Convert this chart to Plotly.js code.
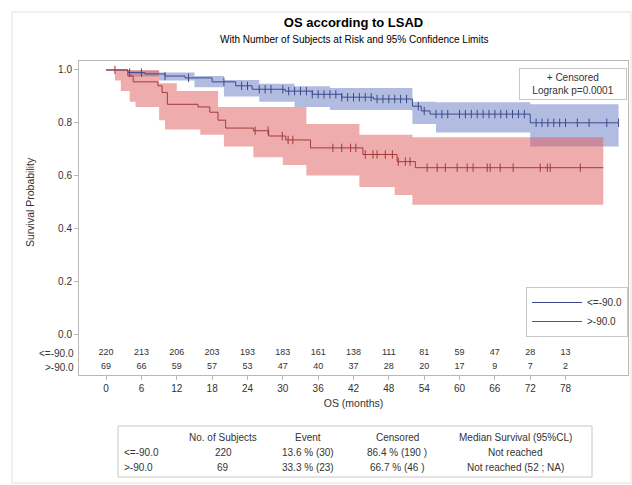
<!DOCTYPE html>
<html>
<head>
<meta charset="utf-8">
<script src="https://cdn.plot.ly/plotly-3.0.1.min.js"></script>
<style>html,body{margin:0;padding:0;background:#fff}#chart{width:632px;height:485px}</style>
</head>
<body>
<div id="chart"></div>
<script>
// ---------- data ----------
const groupNames = ['&lt;=-90.0', '&gt;-90.0'];

// Kaplan-Meier step curves (time in months, survival probability)
const blueT = [0, 3.7, 6.6, 10, 13.4, 18, 22, 24.8, 30.4, 35, 40, 45.4, 52, 53.5, 55, 72, 87];
const blueS = [1.0, 0.99, 0.985, 0.977, 0.97, 0.955, 0.94, 0.927, 0.92, 0.908, 0.897, 0.89, 0.863, 0.845, 0.833, 0.80, 0.80];

const redT = [0, 3.7, 4.6, 8.8, 9.5, 10.4, 15.6, 17.6, 19, 20.3, 25, 27.6, 30.5, 34.7, 43.6, 49.4, 52.5, 84.4];
const redS = [1.0, 0.977, 0.955, 0.94, 0.915, 0.87, 0.86, 0.84, 0.81, 0.78, 0.77, 0.75, 0.735, 0.705, 0.68, 0.653, 0.63, 0.63];

// 95% confidence bands
const blueBandT  = [0, 4, 9, 15, 20, 26, 32, 38, 52, 56, 72, 87];
const blueUpper  = [1.0, 0.997, 0.99, 0.977, 0.962, 0.948, 0.938, 0.932, 0.88, 0.878, 0.87, 0.87];
const blueLower  = [1.0, 0.975, 0.96, 0.935, 0.90, 0.88, 0.86, 0.848, 0.795, 0.763, 0.71, 0.71];

const redBandT   = [0, 1.5, 2.5, 4, 5, 9, 10, 12, 16, 19, 20, 25, 30, 34, 43, 49, 52, 84.4];
const redUpper   = [1.0, 1.0, 1.0, 1.0, 1.0, 0.95, 0.95, 0.92, 0.92, 0.86, 0.86, 0.86, 0.86, 0.795, 0.755, 0.755, 0.745, 0.745];
const redLower   = [1.0, 0.96, 0.92, 0.88, 0.86, 0.81, 0.775, 0.775, 0.755, 0.755, 0.71, 0.67, 0.64, 0.60, 0.557, 0.527, 0.49, 0.49];

// censoring times
const blueCensT = [4, 6, 10, 14, 20, 23, 24, 26, 27, 28, 30, 31, 32, 33, 34, 35, 36, 37, 38, 39, 40, 41, 42, 43, 44, 45, 46, 47, 48, 49, 50, 51, 53, 54, 56, 57, 58, 60, 61, 62, 63, 64, 65, 66, 67, 68, 69, 70, 71, 73, 74, 75, 76, 77, 78, 80, 82, 85, 87];
const redCensT  = [1.5, 25.3, 27.5, 29.9, 30.9, 31.7, 38.5, 40, 41.5, 42.4, 44, 45.3, 46, 47.4, 48.6, 49.6, 50.8, 51.6, 54.5, 56.2, 57.6, 59.6, 61.3, 62.3, 64.7, 65.2, 66.9, 69.1, 73.7, 74.9, 75.4, 80.5];

// number at risk
const riskTimes = [0, 6, 12, 18, 24, 30, 36, 42, 48, 54, 60, 66, 72, 78];
const riskBlue  = [220, 213, 206, 203, 193, 183, 161, 138, 111, 81, 59, 47, 28, 13];
const riskRed   = [69, 66, 59, 57, 53, 47, 40, 37, 28, 20, 17, 9, 7, 2];

// axis ticks
const xTicks = [0, 6, 12, 18, 24, 30, 36, 42, 48, 54, 60, 66, 72, 78];
const yTicks = [0, 0.2, 0.4, 0.6, 0.8, 1.0];
const yTickText = ['0.0', '0.2', '0.4', '0.6', '0.8', '1.0'];

// summary table
const tableHeader = ['', 'No. of Subjects', 'Event', 'Censored', 'Median Survival (95%CL)'];
const tableLabels = ['&lt;=-90.0', '&gt;-90.0'];
const tableSubjects = ['220', '69'];
const tableEvent = ['13.6 % (30)', '33.3 % (23)'];
const tableCensored = ['86.4 % (190 )', '66.7 % (46 )'];
const tableMedian = ['Not reached', 'Not reached (52 ; NA)'];

// ---------- styling ----------
const FONT = 'Liberation Sans, Arial, sans-serif';
const TXT = '#333333';
const blueLine = '#3b4a8c';
const redLine = '#a33a3a';
const blueFill = 'rgba(102,122,196,0.5)';
const redFill = 'rgba(222,90,90,0.5)';
const frame = '#b8b8b8';

// plot-area geometry helpers (pixels -> paper)
const ML = 79, MR = 4, MT = 61, MB = 4, W = 632, H = 485;
const PW = W - ML - MR, PH = H - MT - MB;
const px2x = p => (p - ML) / PW;
const py2y = p => (H - MB - p) / PH;

function stepAt(ts, vs, t) {
  let v = vs[0];
  for (let i = 0; i < ts.length; i++) { if (ts[i] <= t) v = vs[i]; }
  return v;
}

const rowY1 = -0.072, rowY2 = -0.125;

const traces = [
  {x: blueBandT, y: blueLower, mode: 'lines', line: {width: 0, shape: 'hv'}, showlegend: false, hoverinfo: 'skip'},
  {x: blueBandT, y: blueUpper, mode: 'lines', line: {width: 0, shape: 'hv'}, fill: 'tonexty', fillcolor: blueFill, showlegend: false, hoverinfo: 'skip'},
  {x: redBandT, y: redLower, mode: 'lines', line: {width: 0, shape: 'hv'}, showlegend: false, hoverinfo: 'skip'},
  {x: redBandT, y: redUpper, mode: 'lines', line: {width: 0, shape: 'hv'}, fill: 'tonexty', fillcolor: redFill, showlegend: false, hoverinfo: 'skip'},
  {x: blueT, y: blueS, mode: 'lines', name: groupNames[0], line: {color: blueLine, width: 1, shape: 'hv'}},
  {x: redT, y: redS, mode: 'lines', name: groupNames[1], line: {color: redLine, width: 1, shape: 'hv'}},
  {x: blueCensT, y: blueCensT.map(t => stepAt(blueT, blueS, t)), mode: 'markers', showlegend: false,
   marker: {symbol: 'line-ns-open', size: 6, color: blueLine, line: {width: 1, color: blueLine}}},
  {x: redCensT, y: redCensT.map(t => stepAt(redT, redS, t)), mode: 'markers', showlegend: false,
   marker: {symbol: 'line-ns-open', size: 6, color: redLine, line: {width: 1, color: redLine}}},
  {x: riskTimes, y: riskTimes.map(() => rowY1), text: riskBlue.map(String), mode: 'text', showlegend: false,
   textfont: {family: FONT, size: 9, color: TXT}, cliponaxis: false, hoverinfo: 'skip'},
  {x: riskTimes, y: riskTimes.map(() => rowY2), text: riskRed.map(String), mode: 'text', showlegend: false,
   textfont: {family: FONT, size: 9, color: TXT}, cliponaxis: false, hoverinfo: 'skip'}
];

const annotations = [
  {text: 'With Number of Subjects at Risk and 95% Confidence Limits', xref: 'paper', yref: 'paper',
   x: 0.5, y: py2y(40), xanchor: 'center', yanchor: 'middle', showarrow: false,
   font: {family: FONT, size: 10, color: '#000'}},
  {text: 'Survival Probability', xref: 'paper', yref: 'y', x: px2x(30), y: 0.5, textangle: -90,
   xanchor: 'center', yanchor: 'middle', showarrow: false, font: {family: FONT, size: 10.5, color: TXT}},
  {text: '+ Censored<br>Logrank p=0.0001', xref: 'paper', yref: 'paper', x: px2x(627), y: py2y(68),
   xanchor: 'right', yanchor: 'top', showarrow: false, align: 'center', width: 100, bordercolor: '#c8c8c8',
   borderwidth: 1, borderpad: 3, bgcolor: '#ffffff', font: {family: FONT, size: 10, color: TXT}},
  {text: groupNames[0], xref: 'paper', yref: 'y', x: 0, y: rowY1, xanchor: 'right', yanchor: 'middle',
   xshift: -3, showarrow: false, font: {family: FONT, size: 10, color: TXT}},
  {text: groupNames[1], xref: 'paper', yref: 'y', x: 0, y: rowY2, xanchor: 'right', yanchor: 'middle',
   xshift: -3, showarrow: false, font: {family: FONT, size: 10, color: TXT}}
];

// summary table as text annotations
const tableColX = [122, 223, 308, 397, 515];          // pixel positions (left for first col, centers for others)
const tableRowY = [437, 452, 467];                     // header, row1, row2
const tableCols = [tableLabels, tableSubjects, tableEvent, tableCensored, tableMedian];
tableHeader.forEach((h, c) => {
  if (!h) return;
  annotations.push({text: h, xref: 'paper', yref: 'paper', x: px2x(tableColX[c]), y: py2y(tableRowY[0]),
    xanchor: 'center', yanchor: 'middle', showarrow: false, font: {family: FONT, size: 10, color: TXT}});
});
tableCols.forEach((col, c) => {
  col.forEach((v, r) => {
    annotations.push({text: v, xref: 'paper', yref: 'paper', x: px2x(tableColX[c]), y: py2y(tableRowY[r + 1]),
      xanchor: c === 0 ? 'left' : 'center', yanchor: 'middle', showarrow: false,
      font: {family: FONT, size: 10, color: TXT}});
  });
});

const layout = {
  width: W, height: H,
  margin: {l: ML, r: MR, t: MT, b: MB},
  paper_bgcolor: '#ffffff', plot_bgcolor: '#ffffff',
  font: {family: FONT, size: 10, color: TXT},
  title: {text: '<b>OS according to LSAD</b>', font: {family: FONT, size: 13, color: '#000'},
          x: 0.5, xref: 'paper', xanchor: 'center', y: 1 - 22 / H, yref: 'container', yanchor: 'middle'},
  showlegend: true,
  legend: {x: 1, xanchor: 'right', y: py2y(337), yanchor: 'bottom', bordercolor: '#c8c8c8', borderwidth: 1,
           bgcolor: '#ffffff', font: {family: FONT, size: 10, color: TXT}, traceorder: 'normal', itemwidth: 50},
  xaxis: {range: [-4.6, 88.6], tickvals: xTicks, ticks: 'outside', ticklen: 4, tickcolor: frame,
          showline: true, linecolor: frame, linewidth: 1, mirror: true, showgrid: false, zeroline: false,
          tickfont: {family: FONT, size: 10, color: TXT},
          title: {text: 'OS (months)', font: {family: FONT, size: 10.5, color: TXT}, standoff: 6}},
  yaxis: {domain: [py2y(375), 1], range: [-0.155, 1.034], tickvals: yTicks, ticktext: yTickText,
          ticks: 'outside', ticklen: 4, tickcolor: frame, showline: true, linecolor: frame, linewidth: 1,
          mirror: true, showgrid: false, zeroline: false, tickfont: {family: FONT, size: 10, color: TXT}},
  annotations: annotations,
  shapes: [
    {type: 'rect', xref: 'paper', yref: 'paper', x0: px2x(118), x1: px2x(592), y0: py2y(477), y1: py2y(426),
     line: {color: '#c8c8c8', width: 1}},
    {type: 'rect', xref: 'paper', yref: 'paper', x0: px2x(12), x1: px2x(631), y0: py2y(483), y1: py2y(12),
     line: {color: '#e2e2e2', width: 1}}
  ]
};

Plotly.newPlot('chart', traces, layout, {displayModeBar: false, staticPlot: true});
</script>
</body>
</html>
